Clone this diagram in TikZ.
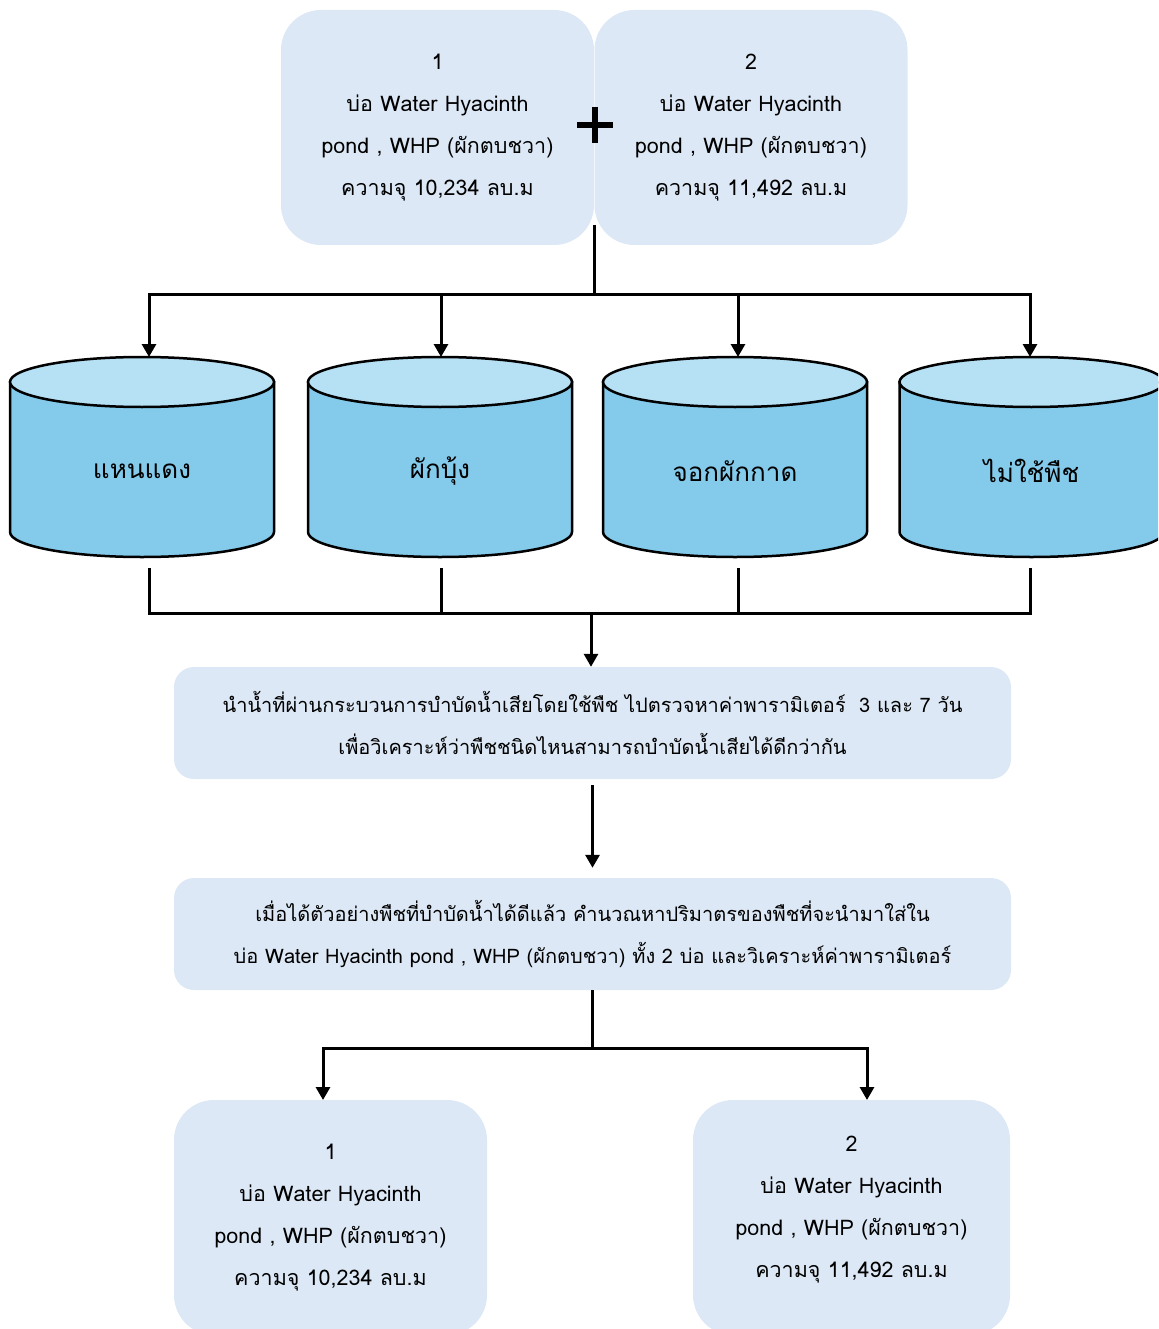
\documentclass[tikz,border=0pt]{standalone}
\usepackage{fontspec}
\newfontfamily\thaifont[Script=Thai]{Loma}
\usetikzlibrary{arrows.meta,positioning}
\definecolor{pondblue}{RGB}{220,232,245}
\definecolor{tankside}{RGB}{132,202,234}
\definecolor{tanktop}{RGB}{182,224,243}

\begin{document}
\begin{tikzpicture}[x=1pt,y=1pt,font=\thaifont\fontsize{20pt}{42pt}\selectfont,
    pondbox/.style={fill=pondblue,rounded corners=40pt,minimum width=313pt,minimum height=235pt,align=center,inner sep=0pt,font=\thaifont\fontsize{21.5pt}{42pt}\selectfont},
    stepbox/.style={fill=pondblue,rounded corners=20pt,minimum width=837pt,minimum height=112pt,align=center,inner sep=0pt},
    tanktext/.style={font=\thaifont\fontsize{26pt}{30pt}\selectfont},
    flow/.style={line width=3pt},
    arr/.style={flow,-{Triangle[width=14pt,length=13pt]}}]
    \useasboundingbox (0,0) rectangle (1158,-1329);
    \clip (0,0) rectangle (1158,-1329);

    % the two ponds at the start
    \node[pondbox] (pondA) at (437.5,-127.5) {1\\บ่อ Water Hyacinth\\pond , WHP (ผักตบชวา)\\ความจุ 10,234 ลบ.ม};
    \node[pondbox] (pondB) at (751,-127.5) {2\\บ่อ Water Hyacinth\\pond , WHP (ผักตบชวา)\\ความจุ 11,492 ลบ.ม};
    \draw[line width=6pt] (577,-125) -- (613,-125) (595,-107) -- (595,-143);

    \coordinate (join) at (594,-225);
    \coordinate (split) at (594,-295);
    \draw[flow] (join) -- (split);

    % test tanks
    \foreach \cx/\ax/\tname/\tlabel in {142/149/tankA/แหนแดง,440/441/tankB/ผักบุ้ง,735/738/tankC/จอกผักกาด,1031.5/1030/tankD/ไม่ใช้พืช}{
        \filldraw[fill=tankside,line width=2.5pt] (\cx-132,-382) -- (\cx-132,-532) arc[start angle=180,end angle=360,x radius=132,y radius=25] -- (\cx+132,-382) -- cycle;
        \filldraw[fill=tanktop,line width=2.5pt] (\cx,-382) ellipse[x radius=132,y radius=25];
        \node[tanktext] (\tname) at (\cx,-471) {\tlabel};
        \coordinate (\tname-in) at (\ax,-357);
        \coordinate (\tname-out) at (\ax,-568);
    }
    \foreach \t in {tankA,tankB,tankC,tankD}
        \draw[arr] (split) -| (\t-in);

    \coordinate (merge) at (591,-613);
    \foreach \t in {tankA,tankB,tankC,tankD}
        \draw[flow] (\t-out) |- (merge);

    % analysis steps
    \node[stepbox] (check) at (592.5,-723) {นำน้ำที่ผ่านกระบวนการบำบัดน้ำเสียโดยใช้พืช ไปตรวจหาค่าพารามิเตอร์\ \ 3 และ 7 วัน\\เพื่อวิเคราะห์ว่าพืชชนิดไหนสามารถบำบัดน้ำเสียได้ดีกว่ากัน};
    \node[stepbox] (calc) at (592.5,-934) {เมื่อได้ตัวอย่างพืชที่บำบัดน้ำได้ดีแล้ว คำนวณหาปริมาตรของพืชที่จะนำมาใส่ใน\\บ่อ Water Hyacinth pond , WHP (ผักตบชวา) ทั้ง 2 บ่อ และวิเคราะห์ค่าพารามิเตอร์};

    \draw[arr] (merge) -- (merge |- check.north);
    \draw[arr] ([yshift=-6pt]check.south) -- ([yshift=10pt]calc.north);

    % the two ponds at the end
    \node[pondbox] (pondC) at (330.5,-1217.5) {1\\บ่อ Water Hyacinth\\pond , WHP (ผักตบชวา)\\ความจุ 10,234 ลบ.ม};
    \node[pondbox,minimum width=317pt] (pondD) at (851.5,-1217.5) {\raisebox{6pt}[0pt][0pt]{\begin{tabular}{@{}c@{}}2\\บ่อ Water Hyacinth\\pond , WHP (ผักตบชวา)\\ความจุ 11,492 ลบ.ม\end{tabular}}};

    \coordinate (fork) at (592.5,-1048);
    \coordinate (pondC-in) at (323,-1100);
    \coordinate (pondD-in) at (867,-1100);
    \draw[flow] (calc.south) -- (fork);
    \draw[arr] (fork) -| (pondC-in);
    \draw[arr] (fork) -| (pondD-in);
\end{tikzpicture}
\end{document}
